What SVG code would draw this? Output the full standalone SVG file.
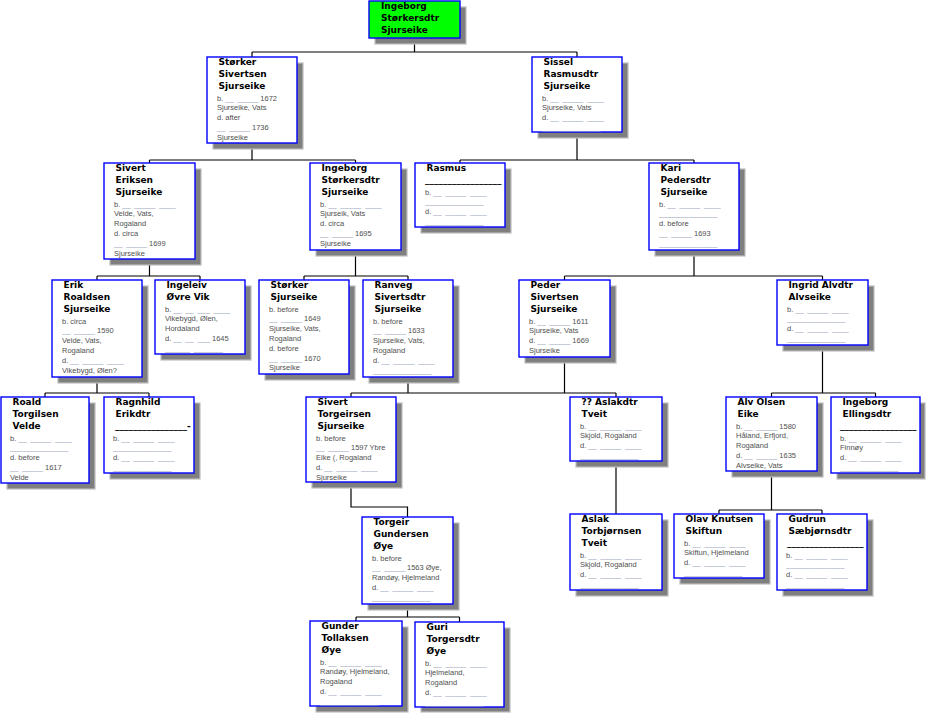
<svg xmlns="http://www.w3.org/2000/svg" width="926" height="713" viewBox="0 0 926 713">
<style>
.bg{fill:#ffffff}
.sh{fill:#7f7f7f;stroke:#bdbdbd;stroke-width:1.2}
.box{fill:#ffffff;stroke:#0000ff;stroke-width:1.4}
.root{fill:#00ff00;stroke:#0000ff;stroke-width:1.4}
.t{font-family:"DejaVu Sans",Verdana,sans-serif;font-weight:bold;font-size:9px;fill:#000000}
.d{font-family:"Liberation Sans",Arial,sans-serif;font-size:7.5px;fill:#505050}
.u{fill:#98a4bc;word-spacing:1.6px}
.c path{fill:none;stroke:#000000;stroke-width:1.2}
</style>
<rect class="bg" x="0" y="0" width="926" height="713"/>
<g id="connectors" class="c">
<path d="M414.5,38V52M252,52H577M252,52V57M577,52V57"/>
<path d="M252,143V160M149.5,160H355.5M149.5,160V163M355.5,160V163"/>
<path d="M577,132V160M460,160H694M460,160V163M694,160V163"/>
<path d="M149.5,259V276M97,276H200M97,276V280M200,276V280"/>
<path d="M355.5,250V276M304,276H408M304,276V280M408,276V280"/>
<path d="M694,250V276M564.5,276H822.5M564.5,276V280M822.5,276V280"/>
<path d="M97,377V393M45,393H149M45,393V397M149,393V397"/>
<path d="M408,377V393M564.5,357V393M351,393H616M351,393V397M616,393V397"/>
<path d="M822.5,345V393M771.5,393H875.5M771.5,393V397M875.5,393V397"/>
<path d="M351,482V507H407.5V517"/>
<path d="M616,461V514"/>
<path d="M771.5,471V510M719,510H822M719,510V514M822,510V514"/>
<path d="M407.5,604V617M356,617H459.5M356,617V621M459.5,617V622"/>
</g>
<g id="n-root">
<rect class="sh" x="375" y="7" width="91" height="37"/>
<rect class="root" x="369" y="1" width="91" height="37"/>
<text class="t"><tspan x="381" y="9">Ingeborg</tspan><tspan x="381" y="21">Størkersdtr</tspan><tspan x="381" y="33">Sjurseike</tspan></text>
</g>
<g id="n-storker-sivertsen">
<rect class="sh" x="213" y="63" width="90" height="86"/>
<rect class="box" x="207" y="57" width="90" height="86"/>
<text class="t"><tspan x="218.5" y="65">Størker</tspan><tspan x="218.5" y="77">Sivertsen</tspan><tspan x="218.5" y="89">Sjurseike</tspan></text>
<text class="d"><tspan x="217" y="100.5">b. <tspan class="u">__ _____</tspan> 1672</tspan><tspan x="217" y="110.3">Sjurseike, Vats</tspan><tspan x="217" y="120.1">d. after</tspan><tspan x="217" y="129.9"><tspan class="u">__ _____</tspan> 1736</tspan><tspan x="217" y="139.7">Sjurseike</tspan></text>
</g>
<g id="n-sissel">
<rect class="sh" x="538" y="63" width="90" height="75"/>
<rect class="box" x="532" y="57" width="90" height="75"/>
<text class="t"><tspan x="543.5" y="65">Sissel</tspan><tspan x="543.5" y="77">Rasmusdtr</tspan><tspan x="543.5" y="89">Sjurseike</tspan></text>
<text class="d"><tspan x="542" y="100.5">b. <tspan class="u">__ _____ ____</tspan></tspan><tspan x="542" y="110.3">Sjurseike, Vats</tspan><tspan x="542" y="120.1">d. <tspan class="u">__ _____ ____</tspan></tspan><tspan x="542" y="129.9" class="u">______________</tspan></text>
</g>
<g id="n-sivert-eriksen">
<rect class="sh" x="110" y="169" width="91" height="96"/>
<rect class="box" x="104" y="163" width="91" height="96"/>
<text class="t"><tspan x="115.5" y="171">Sivert</tspan><tspan x="115.5" y="183">Eriksen</tspan><tspan x="115.5" y="195">Sjurseike</tspan></text>
<text class="d"><tspan x="114" y="206.5">b. <tspan class="u">__ _____ ____</tspan></tspan><tspan x="114" y="216.3">Velde, Vats,</tspan><tspan x="114" y="226.1">Rogaland</tspan><tspan x="114" y="235.9">d. circa</tspan><tspan x="114" y="245.7"><tspan class="u">__ _____</tspan> 1699</tspan><tspan x="114" y="255.5">Sjurseike</tspan></text>
</g>
<g id="n-ingeborg-storkersdtr">
<rect class="sh" x="316" y="169" width="91" height="87"/>
<rect class="box" x="310" y="163" width="91" height="87"/>
<text class="t"><tspan x="321.5" y="171">Ingeborg</tspan><tspan x="321.5" y="183">Størkersdtr</tspan><tspan x="321.5" y="195">Sjurseike</tspan></text>
<text class="d"><tspan x="320" y="206.5">b. <tspan class="u">__ _____ ____</tspan></tspan><tspan x="320" y="216.3">Sjurseik, Vats</tspan><tspan x="320" y="226.1">d. circa</tspan><tspan x="320" y="235.9"><tspan class="u">__ _____</tspan> 1695</tspan><tspan x="320" y="245.7">Sjurseike</tspan></text>
</g>
<g id="n-rasmus">
<rect class="sh" x="421" y="169" width="90" height="64"/>
<rect class="box" x="415" y="163" width="90" height="64"/>
<text class="t"><tspan x="426.5" y="171">Rasmus</tspan><tspan x="425" y="183">_________________</tspan></text>
<text class="d"><tspan x="425" y="194.5">b. <tspan class="u">__ _____ ____</tspan></tspan><tspan x="425" y="204.3" class="u">______________</tspan><tspan x="425" y="214.1">d. <tspan class="u">__ _____ ____</tspan></tspan><tspan x="425" y="223.9" class="u">______________</tspan></text>
</g>
<g id="n-kari">
<rect class="sh" x="655" y="169" width="90" height="87"/>
<rect class="box" x="649" y="163" width="90" height="87"/>
<text class="t"><tspan x="660.5" y="171">Kari</tspan><tspan x="660.5" y="183">Pedersdtr</tspan><tspan x="660.5" y="195">Sjurseike</tspan></text>
<text class="d"><tspan x="659" y="206.5">b. <tspan class="u">__ _____ ____</tspan></tspan><tspan x="659" y="216.3" class="u">______________</tspan><tspan x="659" y="226.1">d. before</tspan><tspan x="659" y="235.9"><tspan class="u">__ _____</tspan> 1693</tspan><tspan x="659" y="245.7" class="u">______________</tspan></text>
</g>
<g id="n-erik">
<rect class="sh" x="58" y="286" width="90" height="97"/>
<rect class="box" x="52" y="280" width="90" height="97"/>
<text class="t"><tspan x="63.5" y="288">Erik</tspan><tspan x="63.5" y="300">Roaldsen</tspan><tspan x="63.5" y="312">Sjurseike</tspan></text>
<text class="d"><tspan x="62" y="323.5">b. circa</tspan><tspan x="62" y="333.3"><tspan class="u">__ _____</tspan> 1590</tspan><tspan x="62" y="343.1">Velde, Vats,</tspan><tspan x="62" y="352.9">Rogaland</tspan><tspan x="62" y="362.7">d. <tspan class="u">__ _____ ____</tspan></tspan><tspan x="62" y="372.5">Vikebygd, Ølen?</tspan></text>
</g>
<g id="n-ingeleiv">
<rect class="sh" x="161" y="286" width="90" height="74"/>
<rect class="box" x="155" y="280" width="90" height="74"/>
<text class="t"><tspan x="166.5" y="288">Ingeleiv</tspan><tspan x="166.5" y="300">Øvre Vik</tspan></text>
<text class="d"><tspan x="165" y="311.5">b. <tspan class="u">__ __ ___ ____</tspan></tspan><tspan x="165" y="321.3">Vikebygd, Ølen,</tspan><tspan x="165" y="331.1">Hordaland</tspan><tspan x="165" y="340.9">d. <tspan class="u">__ __ ___</tspan> 1645</tspan><tspan x="165" y="350.7" class="u">______ _______</tspan></text>
</g>
<g id="n-storker-sjurseike">
<rect class="sh" x="265" y="286" width="90" height="94"/>
<rect class="box" x="259" y="280" width="90" height="94"/>
<text class="t"><tspan x="270.5" y="288">Størker</tspan><tspan x="270.5" y="300">Sjurseike</tspan></text>
<text class="d"><tspan x="269" y="311.5">b. before</tspan><tspan x="269" y="321.3"><tspan class="u">__ _____</tspan> 1649</tspan><tspan x="269" y="331.1">Sjurseike, Vats,</tspan><tspan x="269" y="340.9">Rogaland</tspan><tspan x="269" y="350.7">d. before</tspan><tspan x="269" y="360.5"><tspan class="u">__ _____</tspan> 1670</tspan><tspan x="269" y="370.3">Sjurseike</tspan></text>
</g>
<g id="n-ranveg">
<rect class="sh" x="369" y="286" width="90" height="97"/>
<rect class="box" x="363" y="280" width="90" height="97"/>
<text class="t"><tspan x="374.5" y="288">Ranveg</tspan><tspan x="374.5" y="300">Sivertsdtr</tspan><tspan x="374.5" y="312">Sjurseike</tspan></text>
<text class="d"><tspan x="373" y="323.5">b. before</tspan><tspan x="373" y="333.3"><tspan class="u">__ _____</tspan> 1633</tspan><tspan x="373" y="343.1">Sjurseike, Vats,</tspan><tspan x="373" y="352.9">Rogaland</tspan><tspan x="373" y="362.7">d. <tspan class="u">__ _____ ____</tspan></tspan><tspan x="373" y="372.5" class="u">______________</tspan></text>
</g>
<g id="n-peder">
<rect class="sh" x="525" y="286" width="91" height="77"/>
<rect class="box" x="519" y="280" width="91" height="77"/>
<text class="t"><tspan x="530.5" y="288">Peder</tspan><tspan x="530.5" y="300">Sivertsen</tspan><tspan x="530.5" y="312">Sjurseike</tspan></text>
<text class="d"><tspan x="529" y="323.5">b. <tspan class="u">__ _____</tspan> 1611</tspan><tspan x="529" y="333.3">Sjurseike, Vats</tspan><tspan x="529" y="343.1">d. <tspan class="u">__ _____</tspan> 1669</tspan><tspan x="529" y="352.9">Sjurseike</tspan></text>
</g>
<g id="n-ingrid">
<rect class="sh" x="783" y="286" width="91" height="65"/>
<rect class="box" x="777" y="280" width="91" height="65"/>
<text class="t"><tspan x="788.5" y="288">Ingrid Alvdtr</tspan><tspan x="788.5" y="300">Alvseike</tspan></text>
<text class="d"><tspan x="787" y="311.5">b. <tspan class="u">__ _____ ____</tspan></tspan><tspan x="787" y="321.3" class="u">______________</tspan><tspan x="787" y="331.1">d. <tspan class="u">__ _____ ____</tspan></tspan><tspan x="787" y="340.9" class="u">______________</tspan></text>
</g>
<g id="n-roald">
<rect class="sh" x="7" y="403" width="88" height="86"/>
<rect class="box" x="1" y="397" width="88" height="86"/>
<text class="t"><tspan x="12.5" y="405">Roald</tspan><tspan x="12.5" y="417">Torgilsen</tspan><tspan x="12.5" y="429">Velde</tspan></text>
<text class="d"><tspan x="10" y="440.5">b. <tspan class="u">__ _____ ____</tspan></tspan><tspan x="10" y="450.3" class="u">______________</tspan><tspan x="10" y="460.1">d. before</tspan><tspan x="10" y="469.9"><tspan class="u">__ _____</tspan> 1617</tspan><tspan x="10" y="479.7">Velde</tspan></text>
</g>
<g id="n-ragnhild">
<rect class="sh" x="110" y="403" width="90" height="76"/>
<rect class="box" x="104" y="397" width="90" height="76"/>
<text class="t"><tspan x="115.5" y="405">Ragnhild</tspan><tspan x="115.5" y="417">Erikdtr</tspan><tspan x="115" y="429">________________-</tspan></text>
<text class="d"><tspan x="113" y="440.5">b. <tspan class="u">__ _____ ____</tspan></tspan><tspan x="113" y="450.3" class="u">______________</tspan><tspan x="113" y="460.1">d. <tspan class="u">__ _____ ____</tspan></tspan><tspan x="113" y="469.9" class="u">______________</tspan></text>
</g>
<g id="n-sivert-torgeirsen">
<rect class="sh" x="312" y="403" width="90" height="85"/>
<rect class="box" x="306" y="397" width="90" height="85"/>
<text class="t"><tspan x="317.5" y="405">Sivert</tspan><tspan x="317.5" y="417">Torgeirsen</tspan><tspan x="317.5" y="429">Sjurseike</tspan></text>
<text class="d"><tspan x="316" y="440.5">b. before</tspan><tspan x="316" y="450.3"><tspan class="u">__ _____</tspan> 1597 Ybre</tspan><tspan x="316" y="460.1">Eike (, Rogaland</tspan><tspan x="316" y="469.9">d. <tspan class="u">__ _____ ____</tspan></tspan><tspan x="316" y="479.7">Sjurseike</tspan></text>
</g>
<g id="n-aslakdtr">
<rect class="sh" x="576" y="403" width="92" height="64"/>
<rect class="box" x="570" y="397" width="92" height="64"/>
<text class="t"><tspan x="581.5" y="405">?? Aslakdtr</tspan><tspan x="581.5" y="417">Tveit</tspan></text>
<text class="d"><tspan x="580" y="428.5">b. <tspan class="u">__ _____ ____</tspan></tspan><tspan x="580" y="438.3">Skjold, Rogaland</tspan><tspan x="580" y="448.1">d. <tspan class="u">__ _____ ____</tspan></tspan><tspan x="580" y="457.9" class="u">______________</tspan></text>
</g>
<g id="n-alv">
<rect class="sh" x="732" y="403" width="91" height="74"/>
<rect class="box" x="726" y="397" width="91" height="74"/>
<text class="t"><tspan x="737.5" y="405">Alv Olsen</tspan><tspan x="737.5" y="417">Eike</tspan></text>
<text class="d"><tspan x="736" y="428.5">b. <tspan class="u">__ _____</tspan> 1580</tspan><tspan x="736" y="438.3">Håland, Erfjord,</tspan><tspan x="736" y="448.1">Rogaland</tspan><tspan x="736" y="457.9">d. <tspan class="u">__ _____</tspan> 1635</tspan><tspan x="736" y="467.7">Alvseike, Vats</tspan></text>
</g>
<g id="n-ingeborg-ellingsdtr">
<rect class="sh" x="837" y="403" width="88" height="76"/>
<rect class="box" x="831" y="397" width="89" height="76"/>
<text class="t"><tspan x="842.5" y="405">Ingeborg</tspan><tspan x="842.5" y="417">Ellingsdtr</tspan><tspan x="840" y="429">_________________</tspan></text>
<text class="d"><tspan x="840" y="440.5">b. <tspan class="u">__ _____ ____</tspan></tspan><tspan x="840" y="450.3">Finnøy</tspan><tspan x="840" y="460.1">d. <tspan class="u">__ _____ ____</tspan></tspan><tspan x="840" y="469.9" class="u">______________</tspan></text>
</g>
<g id="n-aslak">
<rect class="sh" x="576" y="520" width="92" height="76"/>
<rect class="box" x="570" y="514" width="92" height="76"/>
<text class="t"><tspan x="581.5" y="522">Aslak</tspan><tspan x="581.5" y="534">Torbjørnsen</tspan><tspan x="581.5" y="546">Tveit</tspan></text>
<text class="d"><tspan x="580" y="557.5">b. <tspan class="u">__ _____ ____</tspan></tspan><tspan x="580" y="567.3">Skjold, Rogaland</tspan><tspan x="580" y="577.1">d. <tspan class="u">__ _____ ____</tspan></tspan><tspan x="580" y="586.9" class="u">______________</tspan></text>
</g>
<g id="n-olav">
<rect class="sh" x="680" y="520" width="90" height="64"/>
<rect class="box" x="674" y="514" width="90" height="64"/>
<text class="t"><tspan x="685.5" y="522">Olav Knutsen</tspan><tspan x="685.5" y="534">Skiftun</tspan></text>
<text class="d"><tspan x="684" y="545.5">b. <tspan class="u">__ _____ ____</tspan></tspan><tspan x="684" y="555.3">Skiftun, Hjelmeland</tspan><tspan x="684" y="565.1">d. <tspan class="u">__ _____ ____</tspan></tspan><tspan x="684" y="574.9" class="u">______________</tspan></text>
</g>
<g id="n-gudrun">
<rect class="sh" x="783" y="520" width="90" height="76"/>
<rect class="box" x="777" y="514" width="90" height="76"/>
<text class="t"><tspan x="788.5" y="522">Gudrun</tspan><tspan x="788.5" y="534">Sæbjørnsdtr</tspan><tspan x="787" y="546">_________________</tspan></text>
<text class="d"><tspan x="786" y="557.5">b. <tspan class="u">__ _____ ____</tspan></tspan><tspan x="786" y="567.3" class="u">______________</tspan><tspan x="786" y="577.1">d. <tspan class="u">__ _____ ____</tspan></tspan><tspan x="786" y="586.9" class="u">______________</tspan></text>
</g>
<g id="n-torgeir">
<rect class="sh" x="368" y="523" width="91" height="87"/>
<rect class="box" x="362" y="517" width="91" height="87"/>
<text class="t"><tspan x="373.5" y="525">Torgeir</tspan><tspan x="373.5" y="537">Gundersen</tspan><tspan x="373.5" y="549">Øye</tspan></text>
<text class="d"><tspan x="372" y="560.5">b. before</tspan><tspan x="372" y="570.3"><tspan class="u">__ _____</tspan> 1563 Øye,</tspan><tspan x="372" y="580.1">Randøy, Hjelmeland</tspan><tspan x="372" y="589.9">d. <tspan class="u">__ _____ ____</tspan></tspan><tspan x="372" y="599.7" class="u">______________</tspan></text>
</g>
<g id="n-gunder">
<rect class="sh" x="316" y="627" width="92" height="85"/>
<rect class="box" x="310" y="621" width="92" height="85"/>
<text class="t"><tspan x="321.5" y="629">Gunder</tspan><tspan x="321.5" y="641">Tollaksen</tspan><tspan x="321.5" y="653">Øye</tspan></text>
<text class="d"><tspan x="320" y="664.5">b. <tspan class="u">__ _____ ____</tspan></tspan><tspan x="320" y="674.3">Randøy, Hjelmeland,</tspan><tspan x="320" y="684.1">Rogaland</tspan><tspan x="320" y="693.9">d. <tspan class="u">__ _____ ____</tspan></tspan><tspan x="320" y="703.7" class="u">______________</tspan></text>
</g>
<g id="n-guri">
<rect class="sh" x="421" y="628" width="89" height="84"/>
<rect class="box" x="415" y="622" width="89" height="85"/>
<text class="t"><tspan x="426.5" y="630">Guri</tspan><tspan x="426.5" y="642">Torgersdtr</tspan><tspan x="426.5" y="654">Øye</tspan></text>
<text class="d"><tspan x="425" y="665.5">b. <tspan class="u">__ _____ ____</tspan></tspan><tspan x="425" y="675.3">Hjelmeland,</tspan><tspan x="425" y="685.1">Rogaland</tspan><tspan x="425" y="694.9">d. <tspan class="u">__ _____ ____</tspan></tspan><tspan x="425" y="704.7" class="u">______________</tspan></text>
</g>
</svg>
